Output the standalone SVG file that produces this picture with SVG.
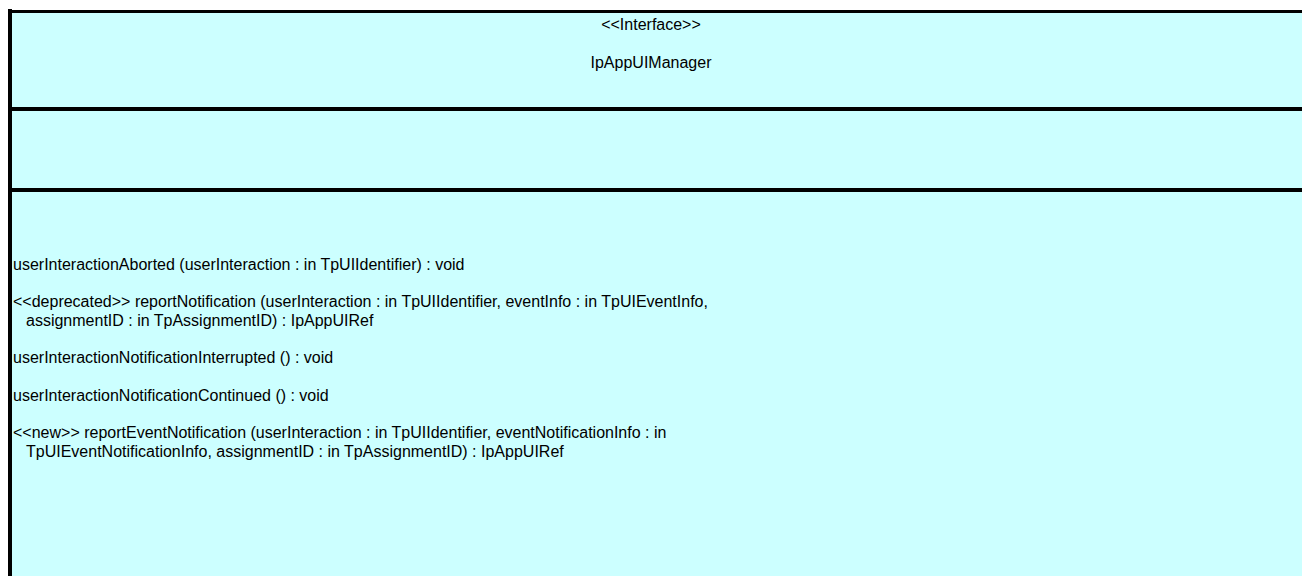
<svg xmlns="http://www.w3.org/2000/svg" width="1302" height="576" viewBox="0 0 1302 576">
<style>
.t{font-family:"Liberation Sans",Arial,sans-serif;font-size:16px;fill:#000}
.c{text-anchor:middle}
.ln{fill:#000}
</style>
<rect width="1302" height="576" fill="#fff"/>
<g id="IpAppUIManager">
<rect x="8" y="10" width="1294" height="566" fill="#CCFFFF"/>
<rect class="ln" x="8" y="10" width="1294" height="3"/>
<rect class="ln" x="8" y="9" width="4" height="567"/>
<rect class="ln" x="8" y="107" width="1294" height="4"/>
<rect class="ln" x="8" y="188" width="1294" height="4"/>
<text class="t c" x="651" y="30">&lt;&lt;Interface&gt;&gt;</text>
<text class="t c" x="651" y="68">IpAppUIManager</text>
<text class="t" x="13" y="270">userInteractionAborted (userInteraction : in TpUIIdentifier) : void</text>
<text class="t" x="13" y="307">&lt;&lt;deprecated&gt;&gt; reportNotification (userInteraction : in TpUIIdentifier, eventInfo : in TpUIEventInfo,</text>
<text class="t" x="26" y="326">assignmentID : in TpAssignmentID) : IpAppUIRef</text>
<text class="t" x="13" y="363">userInteractionNotificationInterrupted () : void</text>
<text class="t" x="13" y="401">userInteractionNotificationContinued () : void</text>
<text class="t" x="13" y="438">&lt;&lt;new&gt;&gt; reportEventNotification (userInteraction : in TpUIIdentifier, eventNotificationInfo : in</text>
<text class="t" x="26" y="457">TpUIEventNotificationInfo, assignmentID : in TpAssignmentID) : IpAppUIRef</text>
</g>
<g id="connectors"/>
</svg>
